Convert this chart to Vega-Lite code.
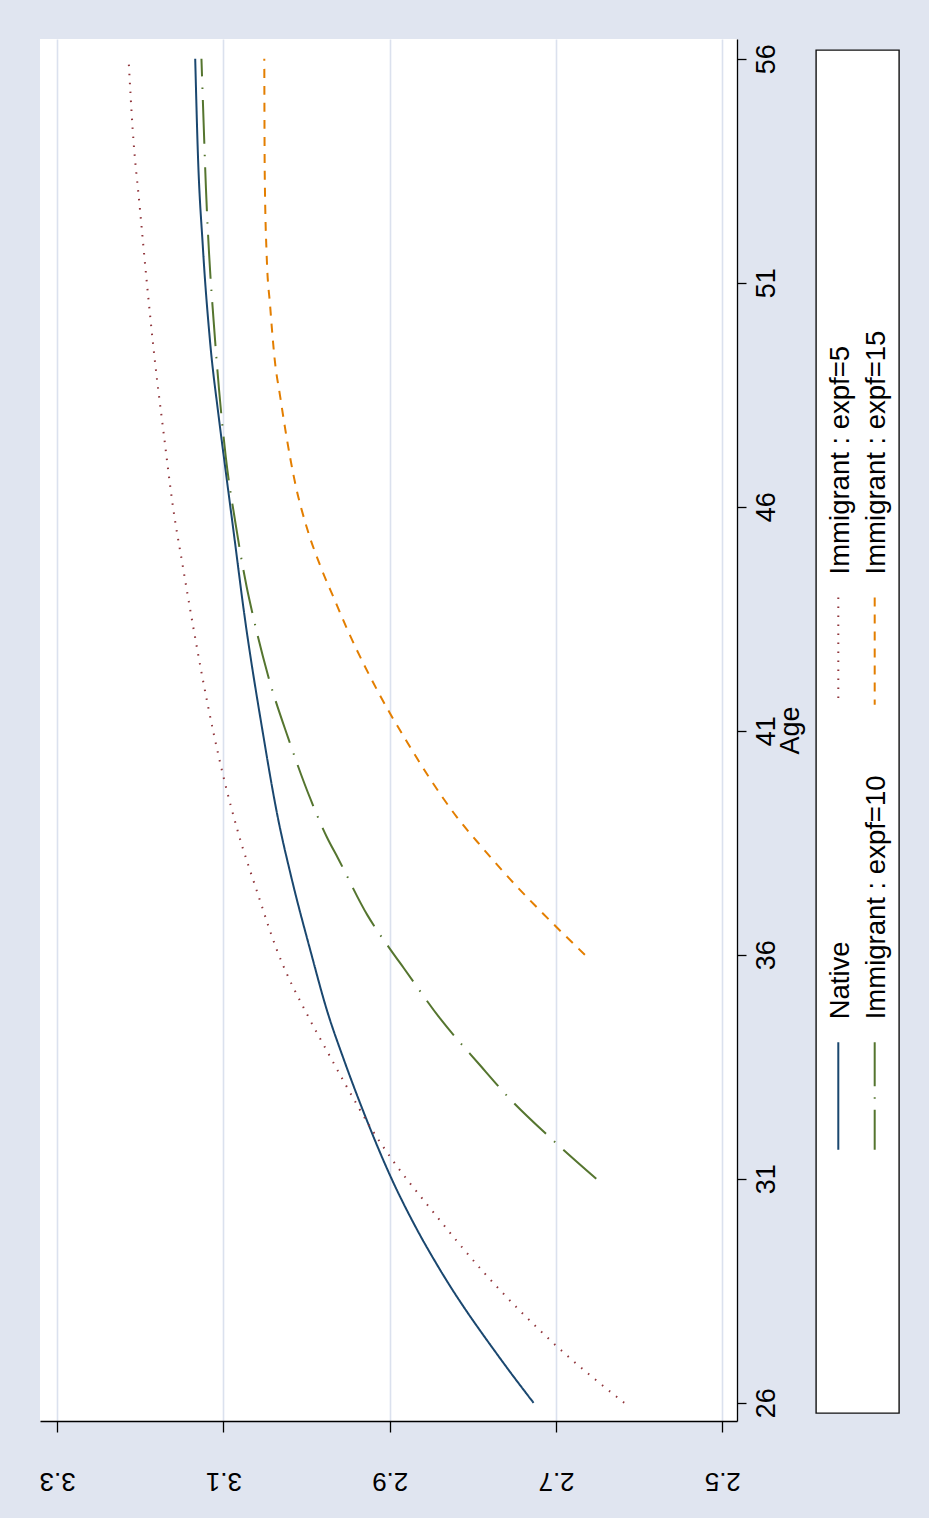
{
  "$schema": "https://vega.github.io/schema/vega-lite/v6.json",
  "autosize": {"type": "none"},
  "width": 697,
  "height": 1382,
  "padding": {"left": 40, "top": 39, "right": 192, "bottom": 97},
  "background": "#e0e5f0",
  "config": {
    "view": {"fill": "white", "stroke": null},
    "font": "Liberation Sans"
  },
  "data": {
    "values": [
      {"series": "Native", "age": 26.0, "value": 2.727},
      {"series": "Native", "age": 26.96, "value": 2.766},
      {"series": "Native", "age": 28.97, "value": 2.8395},
      {"series": "Native", "age": 29.86, "value": 2.867},
      {"series": "Native", "age": 31.05, "value": 2.899},
      {"series": "Native", "age": 32.61, "value": 2.934},
      {"series": "Native", "age": 33.65, "value": 2.955},
      {"series": "Native", "age": 34.77, "value": 2.9757},
      {"series": "Native", "age": 36.03, "value": 2.9945},
      {"series": "Native", "age": 37.74, "value": 3.0185},
      {"series": "Native", "age": 39.08, "value": 3.0348},
      {"series": "Native", "age": 40.94, "value": 3.0525},
      {"series": "Native", "age": 43.69, "value": 3.0756},
      {"series": "Native", "age": 45.27, "value": 3.0866},
      {"series": "Native", "age": 46.78, "value": 3.0972},
      {"series": "Native", "age": 48.02, "value": 3.1058},
      {"series": "Native", "age": 49.7, "value": 3.1162},
      {"series": "Native", "age": 51.8, "value": 3.1248},
      {"series": "Native", "age": 54.0, "value": 3.131},
      {"series": "Native", "age": 56.0, "value": 3.134},

      {"series": "Immigrant : expf=5", "age": 26.0, "value": 2.618},
      {"series": "Immigrant : expf=5", "age": 27.29, "value": 2.7007},
      {"series": "Immigrant : expf=5", "age": 28.93, "value": 2.7878},
      {"series": "Immigrant : expf=5", "age": 30.38, "value": 2.853},
      {"series": "Immigrant : expf=5", "age": 31.42, "value": 2.8968},
      {"series": "Immigrant : expf=5", "age": 32.09, "value": 2.9212},
      {"series": "Immigrant : expf=5", "age": 33.13, "value": 2.954},
      {"series": "Immigrant : expf=5", "age": 33.87, "value": 2.976},
      {"series": "Immigrant : expf=5", "age": 34.62, "value": 2.998},
      {"series": "Immigrant : expf=5", "age": 36.1, "value": 3.0356},
      {"series": "Immigrant : expf=5", "age": 37.44, "value": 3.0601},
      {"series": "Immigrant : expf=5", "age": 38.7, "value": 3.0819},
      {"series": "Immigrant : expf=5", "age": 40.05, "value": 3.101},
      {"series": "Immigrant : expf=5", "age": 40.94, "value": 3.1118},
      {"series": "Immigrant : expf=5", "age": 42.2, "value": 3.1254},
      {"series": "Immigrant : expf=5", "age": 43.32, "value": 3.1364},
      {"series": "Immigrant : expf=5", "age": 44.68, "value": 3.149},
      {"series": "Immigrant : expf=5", "age": 46.02, "value": 3.1609},
      {"series": "Immigrant : expf=5", "age": 47.62, "value": 3.1718},
      {"series": "Immigrant : expf=5", "age": 49.29, "value": 3.1827},
      {"series": "Immigrant : expf=5", "age": 50.97, "value": 3.192},
      {"series": "Immigrant : expf=5", "age": 52.65, "value": 3.2005},
      {"series": "Immigrant : expf=5", "age": 54.42, "value": 3.2092},
      {"series": "Immigrant : expf=5", "age": 56.0, "value": 3.2142},

      {"series": "Immigrant : expf=10", "age": 31.0, "value": 2.6516},
      {"series": "Immigrant : expf=10", "age": 31.9, "value": 2.706},
      {"series": "Immigrant : expf=10", "age": 32.83, "value": 2.7578},
      {"series": "Immigrant : expf=10", "age": 33.54, "value": 2.7916},
      {"series": "Immigrant : expf=10", "age": 34.58, "value": 2.8395},
      {"series": "Immigrant : expf=10", "age": 35.7, "value": 2.883},
      {"series": "Immigrant : expf=10", "age": 36.1, "value": 2.8985},
      {"series": "Immigrant : expf=10", "age": 36.88, "value": 2.9267},
      {"series": "Immigrant : expf=10", "age": 38.15, "value": 2.9621},
      {"series": "Immigrant : expf=10", "age": 38.63, "value": 2.9757},
      {"series": "Immigrant : expf=10", "age": 39.45, "value": 2.9948},
      {"series": "Immigrant : expf=10", "age": 40.83, "value": 3.022},
      {"series": "Immigrant : expf=10", "age": 42.24, "value": 3.0465},
      {"series": "Immigrant : expf=10", "age": 43.65, "value": 3.0655},
      {"series": "Immigrant : expf=10", "age": 44.22, "value": 3.0722},
      {"series": "Immigrant : expf=10", "age": 45.65, "value": 3.0857},
      {"series": "Immigrant : expf=10", "age": 47.11, "value": 3.0972},
      {"series": "Immigrant : expf=10", "age": 48.63, "value": 3.1054},
      {"series": "Immigrant : expf=10", "age": 50.14, "value": 3.1118},
      {"series": "Immigrant : expf=10", "age": 51.64, "value": 3.1173},
      {"series": "Immigrant : expf=10", "age": 53.11, "value": 3.1211},
      {"series": "Immigrant : expf=10", "age": 54.58, "value": 3.1239},
      {"series": "Immigrant : expf=10", "age": 56.0, "value": 3.1265},

      {"series": "Immigrant : expf=15", "age": 36.0, "value": 2.6652},
      {"series": "Immigrant : expf=15", "age": 36.74, "value": 2.706},
      {"series": "Immigrant : expf=15", "age": 37.52, "value": 2.7469},
      {"series": "Immigrant : expf=15", "age": 38.41, "value": 2.7895},
      {"series": "Immigrant : expf=15", "age": 39.08, "value": 2.8195},
      {"series": "Immigrant : expf=15", "age": 39.97, "value": 2.853},
      {"series": "Immigrant : expf=15", "age": 40.79, "value": 2.8804},
      {"series": "Immigrant : expf=15", "age": 41.38, "value": 2.8994},
      {"series": "Immigrant : expf=15", "age": 42.42, "value": 2.9294},
      {"series": "Immigrant : expf=15", "age": 43.24, "value": 2.9505},
      {"series": "Immigrant : expf=15", "age": 43.91, "value": 2.966},
      {"series": "Immigrant : expf=15", "age": 44.68, "value": 2.9835},
      {"series": "Immigrant : expf=15", "age": 45.52, "value": 2.9995},
      {"series": "Immigrant : expf=15", "age": 46.53, "value": 3.0138},
      {"series": "Immigrant : expf=15", "age": 47.62, "value": 3.0247},
      {"series": "Immigrant : expf=15", "age": 48.45, "value": 3.0317},
      {"series": "Immigrant : expf=15", "age": 49.29, "value": 3.0384},
      {"series": "Immigrant : expf=15", "age": 50.47, "value": 3.0438},
      {"series": "Immigrant : expf=15", "age": 51.64, "value": 3.0481},
      {"series": "Immigrant : expf=15", "age": 53.49, "value": 3.0504},
      {"series": "Immigrant : expf=15", "age": 56.0, "value": 3.0509}
    ]
  },
  "mark": {"type": "line", "strokeWidth": 2, "strokeCap": "butt", "interpolate": "monotone", "clip": true},
  "encoding": {
    "x": {
      "field": "value",
      "type": "quantitative",
      "scale": {"domain": [2.4823, 3.3207], "reverse": true, "nice": false, "zero": false},
      "axis": {
        "values": [2.5, 2.7, 2.9, 3.1, 3.3],
        "format": ".1f",
        "title": null,
        "grid": true,
        "gridColor": "#dbe1ee",
        "gridWidth": 1.6,
        "domainColor": "black",
        "domainWidth": 1.3,
        "tickColor": "black",
        "tickWidth": 1.3,
        "tickSize": 11,
        "labelAngle": 180,
        "labelAlign": "center",
        "labelBaseline": "bottom",
        "labelPadding": 35,
        "labelFontSize": 26,
        "labelFont": "Liberation Sans",
        "labelColor": "black",
        "labelFlush": false,
        "labelOverlap": false
      }
    },
    "y": {
      "field": "age",
      "type": "quantitative",
      "scale": {"domain": [25.594, 56.442], "nice": false, "zero": false},
      "axis": {
        "orient": "right",
        "values": [26, 31, 36, 41, 46, 51, 56],
        "title": "Age",
        "grid": false,
        "domainColor": "black",
        "domainWidth": 1.3,
        "tickColor": "black",
        "tickWidth": 1.3,
        "tickSize": 9,
        "labelAngle": 270,
        "labelAlign": "center",
        "labelBaseline": "top",
        "labelPadding": 7,
        "labelFontSize": 27,
        "labelFont": "Liberation Sans",
        "labelColor": "black",
        "labelFlush": false,
        "labelOverlap": false,
        "titleAngle": 270,
        "titleAlign": "center",
        "titleBaseline": "top",
        "titlePadding": -2,
        "titleFontSize": 27,
        "titleFont": "Liberation Sans",
        "titleFontWeight": "normal",
        "titleColor": "black"
      }
    },
    "order": {"field": "age", "type": "quantitative"},
    "color": {
      "field": "series",
      "type": "nominal",
      "scale": {
        "domain": ["Immigrant : expf=5", "Native", "Immigrant : expf=15", "Immigrant : expf=10"],
        "range": ["#90353b", "#1a476f", "#e37e00", "#55752f"]
      },
      "legend": {
        "title": null,
        "orient": "none",
        "legendX": 776,
        "legendY": 11,
        "direction": "vertical",
        "columns": 2,
        "gridAlign": "each",
        "padding": 8,
        "rowPadding": 0,
        "columnPadding": 6.4,
        "fillColor": "white",
        "strokeColor": "#111111",
        "cornerRadius": 0,
        "symbolType": "M0,-1V1",
        "symbolSize": 11556,
        "symbolStrokeWidth": 2,
        "symbolFillColor": "transparent",
        "labelFont": "Liberation Sans",
        "labelFontSize": 27.5,
        "labelColor": "black",
        "labelLimit": 0,
        "encode": {
          "legend": {"update": {"strokeWidth": {"value": 1.4}}},
          "symbols": {"update": {
            "x": {"value": 14.3},
            "y": {"signal": "datum.value === 'Native' || datum.value === 'Immigrant : expf=10' ? 387 : 593"},
            "shape": {"signal": "datum.value === 'Native' || datum.value === 'Immigrant : expf=10' ? 'M0,-1V1M0,5.67' : 'M0,-1V1'"}
          }},
          "labels": {"update": {
            "x": {"value": 16.5},
            "y": {"signal": "datum.value === 'Native' || datum.value === 'Immigrant : expf=10' ? 310.3 : 516.3"},
            "angle": {"value": -90},
            "align": {"value": "left"},
            "baseline": {"value": "middle"}
          }}
        }
      }
    },
    "strokeDash": {
      "field": "series",
      "type": "nominal",
      "scale": {
        "domain": ["Immigrant : expf=5", "Native", "Immigrant : expf=15", "Immigrant : expf=10"],
        "range": [[1.5, 7.5], [1, 0], [9, 8], [44, 11, 1.5, 11]]
      },
      "legend": {
        "title": null,
        "orient": "none",
        "legendX": 776,
        "legendY": 11,
        "direction": "vertical",
        "columns": 2,
        "gridAlign": "each",
        "padding": 8,
        "rowPadding": 0,
        "columnPadding": 6.4,
        "fillColor": "white",
        "strokeColor": "#111111",
        "cornerRadius": 0,
        "symbolType": "M0,-1V1",
        "symbolSize": 11556,
        "symbolStrokeWidth": 2,
        "symbolFillColor": "transparent",
        "labelFont": "Liberation Sans",
        "labelFontSize": 27.5,
        "labelColor": "black",
        "labelLimit": 0,
        "encode": {
          "legend": {"update": {"strokeWidth": {"value": 1.4}}},
          "symbols": {"update": {
            "x": {"value": 14.3},
            "y": {"signal": "datum.value === 'Native' || datum.value === 'Immigrant : expf=10' ? 387 : 593"},
            "shape": {"signal": "datum.value === 'Native' || datum.value === 'Immigrant : expf=10' ? 'M0,-1V1M0,5.67' : 'M0,-1V1'"}
          }},
          "labels": {"update": {
            "x": {"value": 16.5},
            "y": {"signal": "datum.value === 'Native' || datum.value === 'Immigrant : expf=10' ? 310.3 : 516.3"},
            "angle": {"value": -90},
            "align": {"value": "left"},
            "baseline": {"value": "middle"}
          }}
        }
      }
    }
  }
}
